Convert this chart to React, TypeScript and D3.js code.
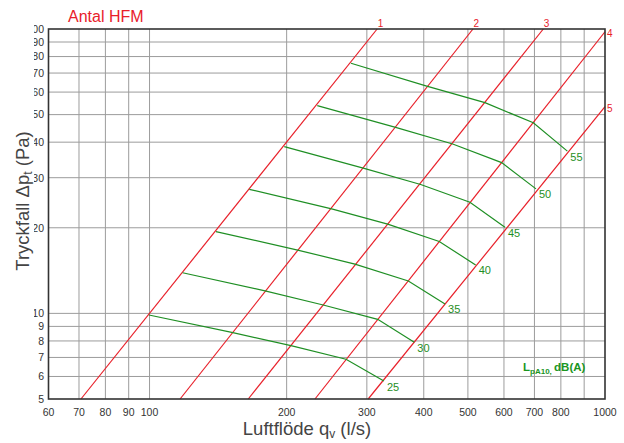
import React, { useEffect, useRef } from 'react';
import { select, scaleLog, line } from 'd3';

// axis ticks and grid
const flowTicks = [60, 70, 80, 90, 100, 200, 300, 400, 500, 600, 700, 800, 1000];
const flowGrid = [70, 80, 90, 100, 200, 300, 400, 500, 600, 700, 800, 900];
const pressureTicks = [5, 6, 7, 8, 9, 10, 20, 30, 40, 50, 60, 70, 80, 90, 100];

// red lines: number of HFM units, start and end point [flow, pressure]
const hfmLabels = ['1', '2', '3', '4', '5'];
const hfmStart: [number, number][] = [[70.7, 5], [116.7, 5], [164.7, 5], [230.8, 5], [302, 5]];
const hfmEnd: [number, number][] = [[316, 100], [513, 100], [732, 100], [1000, 97.8], [1000, 53.3]];

// green lines: sound level LpA10, points where they meet the red lines
const soundLevels = ['25', '30', '35', '40', '45', '50', '55'];
const soundCurves: [number, number][][] = [
  [[99.7, 9.87], [151.5, 8.58], [204.4, 7.7], [270, 6.9], [327, 5.78]],
  [[118.2, 13.9], [179.3, 12.0], [240.6, 10.7], [316.9, 9.53], [381.3, 7.91]],
  [[139.9, 19.4], [211.5, 16.7], [282.5, 14.9], [370, 13.0], [445.4, 10.8]],
  [[165.6, 27.3], [251.1, 23.3], [333.3, 20.6], [432.6, 17.9], [520, 14.8]],
  [[197.6, 38.6], [294.6, 32.4], [393.8, 28.4], [505.2, 24.6], [603, 20.1]],
  [[233.5, 53.8], [347, 45.1], [463, 39.4], [593, 33.9], [705.5, 27.4]],
  [[276.9, 75.8], [406, 63.0], [545, 55.1], [696, 46.8], [826.6, 37.2]],
];

const RED = '#e8202a';
const GREEN = '#1f8f24';
const FONT = '"Liberation Sans", Arial, sans-serif';

const App: React.FC = () => {
  const svgRef = useRef<SVGSVGElement>(null);

  useEffect(() => {
    if (!svgRef.current) return;
    const width = 624;
    const height = 443;
    const left = 48.5, right = 605, top = 29, bottom = 399;

    const svg = select(svgRef.current)
      .attr('width', width)
      .attr('height', height)
      .html('');

    const x = scaleLog().domain([60, 1000]).range([left, right]);
    const y = scaleLog().domain([5, 100]).range([bottom, top]);

    // grid
    const grid = svg.append('g').attr('stroke', '#9c9c9c').attr('stroke-width', 1);
    grid.selectAll('line.v')
      .data(flowGrid)
      .enter()
      .append('line')
      .attr('class', 'v')
      .attr('x1', d => x(d)).attr('x2', d => x(d))
      .attr('y1', top).attr('y2', bottom);
    grid.selectAll('line.h')
      .data(pressureTicks.slice(1, -1))
      .enter()
      .append('line')
      .attr('class', 'h')
      .attr('x1', left).attr('x2', right)
      .attr('y1', d => y(d)).attr('y2', d => y(d));

    // tick labels
    svg.append('g')
      .attr('font-family', FONT)
      .attr('font-size', 10.5)
      .attr('fill', '#333')
      .attr('text-anchor', 'middle')
      .selectAll('text')
      .data(flowTicks)
      .enter()
      .append('text')
      .attr('x', d => x(d))
      .attr('y', 416)
      .text(d => d);

    svg.append('clipPath').attr('id', 'yclip')
      .append('rect').attr('x', 34).attr('y', 0).attr('width', 20).attr('height', height);

    svg.append('g')
      .attr('clip-path', 'url(#yclip)')
      .attr('font-family', FONT)
      .attr('font-size', 10.5)
      .attr('fill', '#333')
      .attr('text-anchor', 'end')
      .selectAll('text')
      .data(pressureTicks)
      .enter()
      .append('text')
      .attr('x', 44)
      .attr('y', d => y(d) + 3.8)
      .text(d => d);

    // red lines
    const path = line<[number, number]>().x(d => x(d[0])).y(d => y(d[1]));
    const hfm = svg.append('g');
    hfmLabels.forEach((label, i) => {
      hfm.append('path')
        .attr('d', path([hfmStart[i], hfmEnd[i]]))
        .attr('fill', 'none')
        .attr('stroke', RED)
        .attr('stroke-width', 1.2);
      const [ex, ey] = [x(hfmEnd[i][0]), y(hfmEnd[i][1])];
      const onTop = hfmEnd[i][1] >= 100;
      hfm.append('text')
        .attr('x', onTop ? ex + 0.5 : ex + 2)
        .attr('y', onTop ? ey - 2.5 : ey + 5.5)
        .attr('font-family', FONT)
        .attr('font-size', 10)
        .attr('fill', RED)
        .text(label);
    });

    // green lines
    const sound = svg.append('g');
    soundLevels.forEach((label, i) => {
      const pts = soundCurves[i];
      sound.append('path')
        .attr('d', path(pts))
        .attr('fill', 'none')
        .attr('stroke', GREEN)
        .attr('stroke-width', 1.2);
      const last = pts[pts.length - 1];
      sound.append('text')
        .attr('x', x(last[0]) + 3)
        .attr('y', y(last[1]) + 9.5)
        .attr('font-family', FONT)
        .attr('font-size', 11)
        .attr('fill', GREEN)
        .text(label);
    });

    // legend for green lines
    const leg = svg.append('text')
      .attr('x', 523)
      .attr('y', 371)
      .attr('font-family', FONT)
      .attr('font-size', 11.5)
      .attr('font-weight', 'bold')
      .attr('fill', '#1a961f');
    leg.append('tspan').text('L');
    leg.append('tspan').attr('font-size', 8).attr('dy', 2.5).text('pA10');
    leg.append('tspan').attr('font-size', 8).text(', ');
    leg.append('tspan').attr('dy', -2.5).text('dB(A)');

    // plot border
    svg.append('rect')
      .attr('x', left).attr('y', top)
      .attr('width', right - left).attr('height', bottom - top)
      .attr('fill', 'none')
      .attr('stroke', '#333')
      .attr('stroke-width', 1.6);

    // titles
    svg.append('text')
      .attr('x', 68)
      .attr('y', 21.5)
      .attr('font-family', FONT)
      .attr('font-size', 16)
      .attr('fill', RED)
      .text('Antal HFM');

    const xt = svg.append('text')
      .attr('x', 307)
      .attr('y', 435)
      .attr('text-anchor', 'middle')
      .attr('font-family', FONT)
      .attr('font-size', 18.5)
      .attr('fill', '#444');
    xt.append('tspan').text('Luftflöde q');
    xt.append('tspan').attr('font-size', 12).attr('dy', 3).text('v');
    xt.append('tspan').attr('dy', -3).text(' (l/s)');

    const yt = svg.append('text')
      .attr('transform', 'translate(28.5, 201) rotate(-90)')
      .attr('text-anchor', 'middle')
      .attr('font-family', FONT)
      .attr('font-size', 18.5)
      .attr('fill', '#444');
    yt.append('tspan').text('Tryckfall Δp');
    yt.append('tspan').attr('font-size', 12).attr('dy', 3).text('t');
    yt.append('tspan').attr('dy', -3).text(' (Pa)');
  }, []);

  return (
    <svg ref={svgRef} style={{ position: 'absolute', left: 0, top: 0, background: '#fff' }}></svg>
  );
};

export default App;
